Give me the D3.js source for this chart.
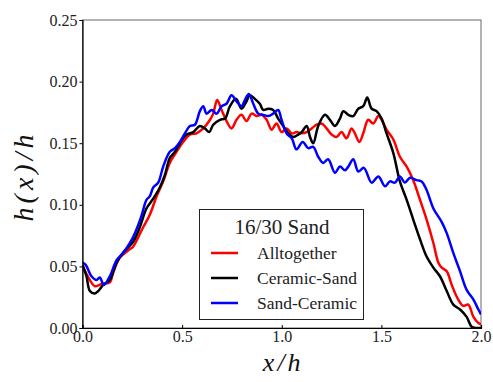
<!DOCTYPE html>
<html><head><meta charset="utf-8">
<script src="https://cdn.jsdelivr.net/npm/d3@7"></script>
<style>
body { margin: 0; font-family: "Liberation Serif"; }
svg text, svg .tick text { font-family: "Liberation Serif" !important; }
</style>
</head><body>
<script>
const seriesNames = ["Alltogether", "Ceramic-Sand", "Sand-Ceramic"];
const seriesColors = ["#ff0000", "#000000", "#0000ff"];
const legendTitle = "16/30 Sand";
const xTicks = [0, 0.5, 1.0, 1.5, 2.0];
const yTicks = [0, 0.05, 0.10, 0.15, 0.20, 0.25];

const alltogetherX = [0,0.02,0.062,0.1,0.137,0.154,0.187,0.238,0.254,0.305,0.338,0.372,0.405,0.438,0.472,0.505,0.539,0.572,0.606,0.64,0.656,0.676,0.698,0.723,0.748,0.773,0.798,0.823,0.849,0.874,0.899,0.924,0.949,0.974,0.999,1.024,1.05,1.074,1.1,1.125,1.15,1.175,1.2,1.225,1.25,1.275,1.3,1.325,1.35,1.367,1.389,1.409,1.434,1.459,1.485,1.501,1.526,1.56,1.593,1.627,1.66,1.694,1.727,1.761,1.786,1.803,1.828,1.853,1.886,1.911,1.936,1.962,1.987,2.0];
const alltogetherY = [0.051,0.044,0.034,0.036,0.037,0.045,0.057,0.064,0.066,0.082,0.092,0.107,0.119,0.134,0.143,0.151,0.157,0.158,0.162,0.169,0.174,0.185,0.177,0.168,0.162,0.169,0.173,0.168,0.174,0.172,0.173,0.169,0.161,0.166,0.159,0.162,0.158,0.159,0.158,0.159,0.162,0.165,0.166,0.162,0.157,0.155,0.159,0.154,0.162,0.158,0.151,0.158,0.169,0.166,0.172,0.169,0.161,0.153,0.139,0.131,0.12,0.104,0.088,0.069,0.053,0.049,0.046,0.035,0.023,0.018,0.019,0.009,0.004,0.003];

const ceramicSandX = [0,0.02,0.037,0.062,0.079,0.104,0.137,0.171,0.204,0.254,0.288,0.321,0.355,0.388,0.413,0.438,0.464,0.489,0.522,0.556,0.589,0.614,0.636,0.656,0.69,0.715,0.74,0.77,0.798,0.823,0.84,0.865,0.89,0.907,0.932,0.957,0.982,1.007,1.033,1.058,1.083,1.1,1.125,1.142,1.158,1.183,1.217,1.242,1.267,1.292,1.309,1.334,1.359,1.384,1.409,1.429,1.451,1.476,1.501,1.526,1.56,1.593,1.627,1.66,1.694,1.727,1.761,1.794,1.828,1.861,1.895,1.928,1.953,1.978,2.0];
const ceramicSandY = [0.051,0.042,0.03,0.028,0.03,0.035,0.039,0.053,0.061,0.07,0.082,0.097,0.105,0.114,0.124,0.138,0.143,0.15,0.157,0.159,0.164,0.162,0.159,0.165,0.169,0.17,0.18,0.186,0.178,0.184,0.189,0.186,0.182,0.177,0.178,0.177,0.17,0.164,0.158,0.155,0.157,0.159,0.164,0.155,0.15,0.164,0.173,0.169,0.164,0.17,0.176,0.173,0.172,0.178,0.18,0.187,0.178,0.176,0.17,0.158,0.142,0.119,0.104,0.088,0.072,0.058,0.049,0.042,0.03,0.019,0.015,0.009,0.001,0,0];

const sandCeramicX = [0,0.017,0.045,0.07,0.087,0.107,0.137,0.171,0.204,0.238,0.263,0.296,0.321,0.338,0.355,0.38,0.405,0.438,0.464,0.489,0.514,0.539,0.564,0.589,0.606,0.623,0.648,0.673,0.698,0.723,0.748,0.773,0.798,0.815,0.835,0.857,0.882,0.907,0.932,0.957,0.982,0.999,1.024,1.05,1.074,1.105,1.133,1.158,1.183,1.208,1.233,1.267,1.292,1.317,1.334,1.359,1.384,1.412,1.451,1.485,1.518,1.543,1.568,1.593,1.618,1.644,1.677,1.702,1.727,1.761,1.803,1.828,1.861,1.895,1.928,1.962,1.987,2.0];
const sandCeramicY = [0.053,0.051,0.042,0.039,0.041,0.035,0.042,0.055,0.061,0.069,0.077,0.091,0.104,0.107,0.114,0.118,0.131,0.143,0.146,0.151,0.158,0.164,0.165,0.176,0.18,0.174,0.177,0.174,0.18,0.182,0.189,0.184,0.18,0.185,0.19,0.182,0.174,0.173,0.172,0.174,0.177,0.169,0.158,0.154,0.145,0.151,0.146,0.147,0.139,0.134,0.137,0.126,0.131,0.128,0.131,0.137,0.127,0.13,0.118,0.123,0.115,0.119,0.118,0.123,0.118,0.122,0.12,0.119,0.112,0.097,0.086,0.077,0.061,0.046,0.031,0.023,0.015,0.011];

const seriesX = [alltogetherX, ceramicSandX, sandCeramicX];
const seriesY = [alltogetherY, ceramicSandY, sandCeramicY];

const W = 493, H = 382;
const m = {left: 82.5, right: 12, top: 20, bottom: 54};
const svg = d3.select("body").append("svg").attr("width", W).attr("height", H)
  .attr("font-family", "Liberation Serif").style("display", "block");
const x = d3.scaleLinear().domain([0, 2]).range([m.left, W - m.right]);
const y = d3.scaleLinear().domain([0, 0.25]).range([H - m.bottom, m.top]);

function txt(sel, size, italic) {
  sel.attr("font-family", "Liberation Serif").style("font-family", '"Liberation Serif"')
     .style("font-size", size + "px");
  if (italic) sel.style("font-style", "italic");
  return sel;
}

svg.append("defs").append("clipPath").attr("id", "clip").append("rect")
  .attr("x", m.left).attr("y", m.top).attr("width", x(2) - m.left).attr("height", y(0) - m.top);

svg.append("rect").attr("x", m.left).attr("y", m.top).attr("width", x(2) - m.left).attr("height", y(0) - m.top)
  .attr("fill", "none").attr("stroke", "#666").attr("stroke-width", 1);

const line = d3.line().x(d => x(d[0])).y(d => y(d[1])).curve(d3.curveCatmullRom.alpha(0.5));
const g = svg.append("g").attr("clip-path", "url(#clip)");
seriesX.forEach((xs, i) => {
  const data = xs.map((v, j) => [v, seriesY[i][j]]);
  g.append("path").datum(data).attr("d", line)
    .attr("fill", "none").attr("stroke", seriesColors[i]).attr("stroke-width", 2.5)
    .attr("stroke-linejoin", "round");
});

const xAxis = svg.append("g").attr("transform", `translate(0,${y(0)})`)
  .call(d3.axisBottom(x).tickValues(xTicks).tickFormat(d3.format(".1f")).tickSize(-3).tickPadding(3));
const yAxis = svg.append("g").attr("transform", `translate(${m.left},0)`)
  .call(d3.axisLeft(y).tickValues(yTicks).tickFormat(d3.format(".2f")).tickSize(3).tickPadding(2));
[xAxis, yAxis].forEach(a => {
  a.attr("font-family", "Liberation Serif").attr("font-size", 16);
  a.select(".domain").attr("stroke", "#000").attr("stroke-width", 1.2);
  a.selectAll(".tick line").attr("stroke", "#000");
  a.selectAll("text").attr("fill", "#222").call(s => txt(s, 16));
});
xAxis.selectAll("text").attr("dy", "0.71em");

txt(svg.append("text"), 26, true).attr("x", (m.left + x(2)) / 2 + 1.5).attr("y", 371).attr("text-anchor", "middle")
  .style("letter-spacing", "3px").attr("fill", "#111").text("x/h");
txt(svg.append("text"), 28, true).attr("transform", `translate(33,${(m.top + y(0)) / 2 + 2}) rotate(-90)`)
  .attr("text-anchor", "middle").style("letter-spacing", "4px").attr("fill", "#111").text("h(x)/h");

const lg = svg.append("g");
lg.append("rect").attr("x", 199.5).attr("y", 209.5).attr("width", 164).attr("height", 110)
  .attr("fill", "#fff").attr("stroke", "#222").attr("stroke-width", 1);
txt(lg.append("text"), 21).attr("x", 282).attr("y", 234).attr("text-anchor", "middle")
  .attr("fill", "#222").text(legendTitle);
seriesNames.forEach((n, i) => {
  const yy = 253 + i * 25;
  lg.append("line").attr("x1", 211).attr("x2", 238).attr("y1", yy).attr("y2", yy)
    .attr("stroke", seriesColors[i]).attr("stroke-width", 2.5);
  txt(lg.append("text"), 17.5).attr("x", 257).attr("y", yy).attr("dy", "0.35em")
    .attr("fill", "#222").text(n);
});
</script>
</body></html>
